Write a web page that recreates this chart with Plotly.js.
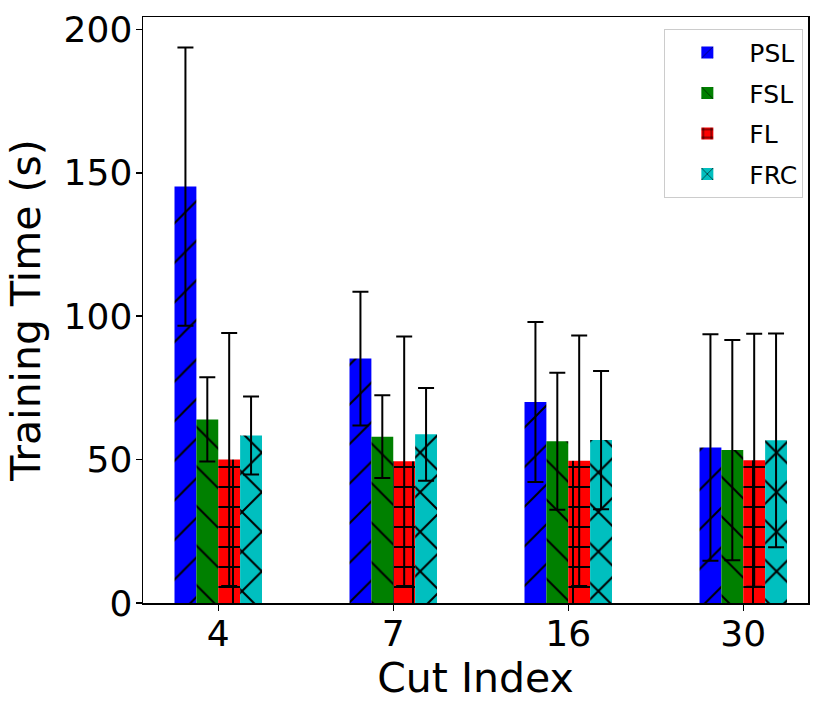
<!DOCTYPE html>
<html>
<head>
<meta charset="utf-8">
<script src="https://cdn.plot.ly/plotly-3.0.1.min.js"></script>
<style>
  html, body { margin: 0; padding: 0; background: #fff; }
  #chart { width: 831px; height: 712px; }
</style>
</head>
<body>
<div id="chart"></div>
<script>
const cutIndex = ["4", "7", "16", "30"];

const pslMean = [145.2, 85.2, 70.1, 54.2];
const pslErr = [48.5, 23.3, 27.9, 39.5];
const fslMean = [64.0, 58.0, 56.4, 53.3];
const fslErr = [14.7, 14.4, 23.9, 38.4];
const flMean = [50.0, 49.4, 49.6, 49.8];
const flErr = [44.1, 43.5, 43.7, 44.1];
const frcMean = [58.4, 58.8, 56.8, 56.7];
const frcErr = [13.6, 16.2, 24.1, 37.3];

function series(name, y, err, color, shape, size, solidity) {
  return {
    type: "bar",
    name: name,
    legendgroup: name,
    x: cutIndex,
    y: y,
    marker: {
      color: color,
      line: { width: 0 },
      pattern: {
        shape: shape,
        fgcolor: "black",
        bgcolor: color,
        size: size,
        solidity: solidity,
      },
    },
    error_y: {
      type: "data",
      array: err,
      visible: true,
      color: "black",
      thickness: 2,
      width: 8,
    },
  };
}

const data = [
  series("PSL", pslMean, pslErr, "#0000ff", "/", 28, 0.07),
  series("FSL", fslMean, fslErr, "#008000", "\\", 28, 0.07),
  series("FL", flMean, flErr, "#ff0000", "+", 20, 0.19),
  series("FRC", frcMean, frcErr, "#00bfbf", "x", 28, 0.14),
];

const font = "DejaVu Sans, sans-serif";

const layout = {
  width: 831,
  height: 712,
  margin: { l: 143, r: 23, t: 17, b: 109 },
  paper_bgcolor: "white",
  plot_bgcolor: "white",
  font: { family: font, color: "black" },
  barmode: "group",
  bargap: 0.5,
  bargroupgap: 0,
  showlegend: true,
  legend: {
    x: 0.993,
    y: 0.98,
    xanchor: "right",
    yanchor: "top",
    bgcolor: "white",
    bordercolor: "#cccccc",
    borderwidth: 1,
    font: { family: font, size: 25 },
    traceorder: "grouped",
    tracegroupgap: 5,
    itemwidth: 74,
  },
  xaxis: {
    type: "category",
    range: [-0.43, 3.37],
    showline: true,
    mirror: true,
    linecolor: "black",
    linewidth: 1.5,
    ticks: "outside",
    ticklen: 6,
    tickwidth: 1.5,
    tickcolor: "black",
    tickfont: { family: font, size: 36 },
    ticklabelstandoff: -8,
    showgrid: false,
    zeroline: false,
    title: { text: "Cut Index", font: { family: font, size: 41 }, standoff: 0 },
  },
  yaxis: {
    range: [0, 204.3],
    tickvals: [0, 50, 100, 150, 200],
    showline: true,
    mirror: true,
    linecolor: "black",
    linewidth: 1.5,
    ticks: "outside",
    ticklen: 6,
    tickwidth: 1.5,
    tickcolor: "black",
    tickfont: { family: font, size: 36 },
    ticklabelstandoff: -4,
    showgrid: false,
    zeroline: false,
    title: { text: "Training Time (s)", font: { family: font, size: 41 }, standoff: 10 },
  },
};

Plotly.newPlot("chart", data, layout, { staticPlot: true });
</script>
</body>
</html>
